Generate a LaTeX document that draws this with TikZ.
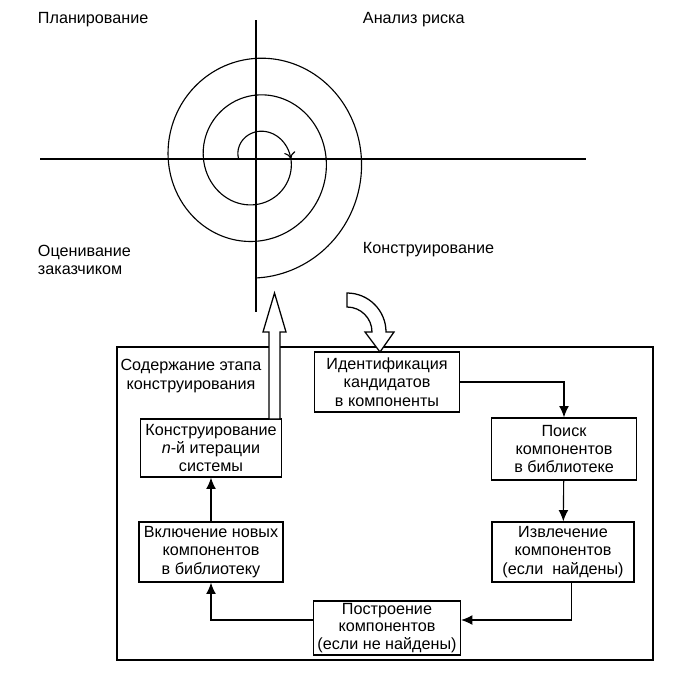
\documentclass[tikz,border=0pt]{standalone}
\usepackage{fontspec}
\setmainfont{Liberation Sans}
\usetikzlibrary{positioning,arrows.meta,calc}

\begin{document}
\begin{tikzpicture}[>=Latex,x=0.025cm,y=-0.025cm,font=\fontsize{11.5}{13}\selectfont,
  blk/.style={draw,line width=1pt,align=center,inner sep=1pt,minimum height=1.5cm},
  lnk/.style={-{Latex[length=8pt,width=7pt]},line width=0.8pt}]
  \useasboundingbox (0,0) rectangle (694,672);
  % spiral
  \draw[line width=1.6pt] (40,159) -- (586,159);
  \draw[line width=1.6pt] (256,20) -- (256,312);
  \draw[line width=0.8pt,-{To[length=5pt,width=8pt]}] plot[domain=180:0,samples=40,smooth] ({256+0.96*(18+(180-\x)*0.10202)*cos(\x)},{159-(18+(180-\x)*0.10202)*sin(\x)});
  \draw[line width=0.8pt] plot[domain=0:-810,samples=180,smooth] ({256+0.96*(18+(180-\x)*0.10202)*cos(\x)},{159-(18+(180-\x)*0.10202)*sin(\x)});
  \node[anchor=west] (plan) at (33,20) {Планирование};
  \node[anchor=west] (risk) at (358,20) {Анализ риска};
  \node[anchor=north west,align=left] (eval) at (33,240) {Оценивание\\заказчиком};
  \node[anchor=west] (constr) at (358,250) {Конструирование};
  % stage
  \draw[line width=1.1pt] (117,347) rectangle (653,660);
  \node[align=center] (stage) at (191,376) {Содержание этапа\\конструирования};
  \node[blk,minimum width=3.62cm] (ident) at (387,382) {Идентификация\\кандидатов\\в компоненты};
  \node[blk,minimum width=3.62cm,minimum height=1.55cm] (search) at (564,449) {Поиск\\компонентов\\в библиотеке};
  \node[blk,minimum width=3.55cm] (extract) at (563,552) {Извлечение\\компонентов\\(если~~найдены)};
  \node[blk,minimum width=3.67cm,minimum height=1.3cm,inner ysep=1.5pt,font=\fontsize{11.5}{12.5}\selectfont] (build) at (387,628) {Построение\\компонентов\\(если не найдены)};
  \node[blk,minimum width=3.6cm] (include) at (211,552) {Включение новых\\компонентов\\в библиотеку};
  \node[blk,minimum width=3.52cm,minimum height=1.45cm] (iter) at (211,448) {Конструирование\\\textit{n}-й итерации\\системы};
  \draw[lnk] (ident.east) -| (search.north);
  \draw[lnk] (search) -- (extract);
  \draw[lnk] ([xshift=0.22cm]extract.south) |- ([yshift=0.2cm]build.east);
  \draw[lnk] ([yshift=0.2cm]build.west) -| (include.south);
  \draw[lnk] (include) -- (iter);
  % block arrows
  \draw[line width=0.9pt,fill=white] (269,419) -- (269,332) -- (263,332) -- (274.5,293) -- (286,332) -- (280,332) -- (280,419) -- cycle;
  \draw[line width=0.9pt,fill=white] (347,293) arc(-90:0:39) -- (394,332) -- (380,352) -- (365,332) -- (372,332) arc(0:-90:25) -- cycle;
\end{tikzpicture}
\end{document}
